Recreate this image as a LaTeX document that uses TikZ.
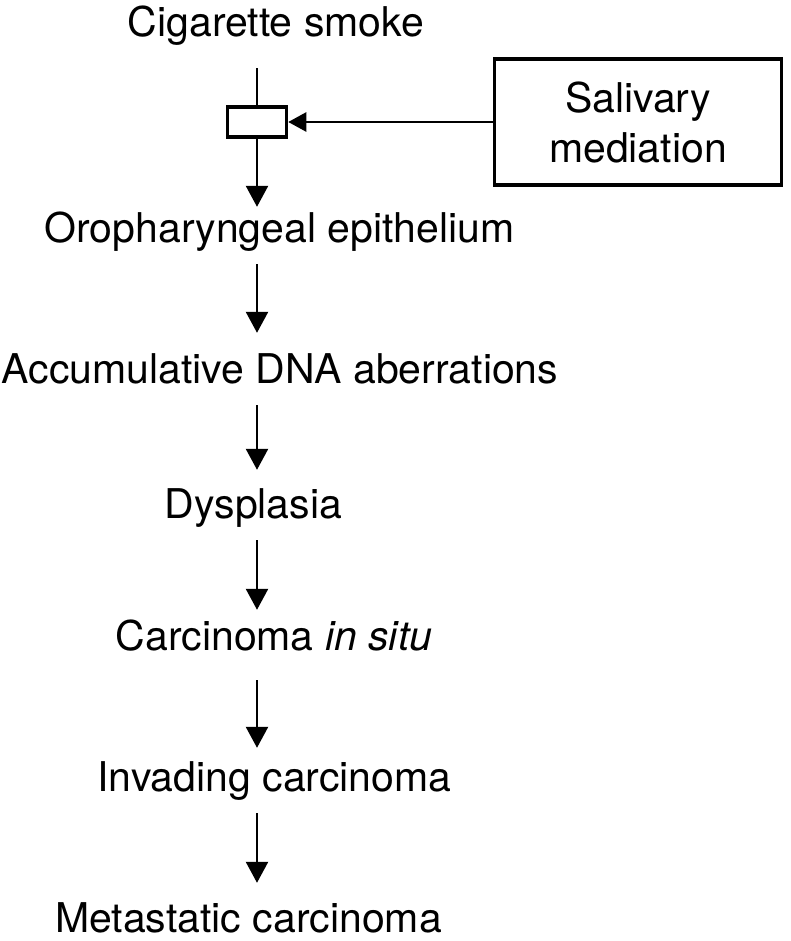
\documentclass[tikz,border=0pt]{standalone}
\usepackage{fontspec}
\setmainfont{TeX Gyre Heros}
\usetikzlibrary{positioning,arrows.meta}

\begin{document}
\begin{tikzpicture}[x=1pt,y=-1pt,
  stage/.style={anchor=base,inner xsep=0pt,inner ysep=12pt,text height=36pt,text depth=10pt,font=\fontsize{41}{50}\selectfont},
  flow/.style={line width=2.5pt,-{Triangle[width=22pt,length=21pt]}},
  gatebox/.style={draw,line width=3.5pt,minimum width=59pt,minimum height=30pt,inner sep=0pt}]
\useasboundingbox (0,0) rectangle (790,941);

\node[stage] (cig) at (276,37) {Cigarette smoke};
\node[gatebox] (gate) at (257,122) {};
\node[draw,line width=3.5pt,minimum width=287pt,minimum height=126pt,inner sep=0pt,align=center,font=\fontsize{41}{50}\selectfont] (sal) at (638,122) {Salivary\\mediation};

\node[stage,text height=23pt] (oro) at (279.5,242) {Oropharyngeal epithelium};
\node[stage,text height=38pt] (dna) at (280,383) {Accumulative DNA aberrations};
\node[stage] (dys) at (253.5,518) {Dysplasia};
\node[stage,text height=28pt,text depth=18pt] (cis) at (274,650) {Carcinoma \textit{in situ}};
\node[stage,text height=31pt] (inv) at (274.5,791) {Invading carcinoma};
\node[stage,text height=37pt] (meta) at (248.5,932) {Metastatic carcinoma};

\draw[line width=2.5pt,shorten <=9pt] (cig.south -| gate) -- (gate);
\draw[flow,-{Triangle[width=19pt,length=18pt]}] (sal) -- (gate);
\draw[flow] (gate) -- (oro.north -| gate);
\draw[flow] (oro.south -| gate) -- (dna.north -| gate);
\draw[flow] (dna.south -| gate) -- (dys.north -| gate);
\draw[flow] (dys.south -| gate) -- (cis.north -| gate);
\draw[flow] (cis.south -| gate) -- (inv.north -| gate);
\draw[flow] (inv.south -| gate) -- (meta.north -| gate);
\end{tikzpicture}
\end{document}
